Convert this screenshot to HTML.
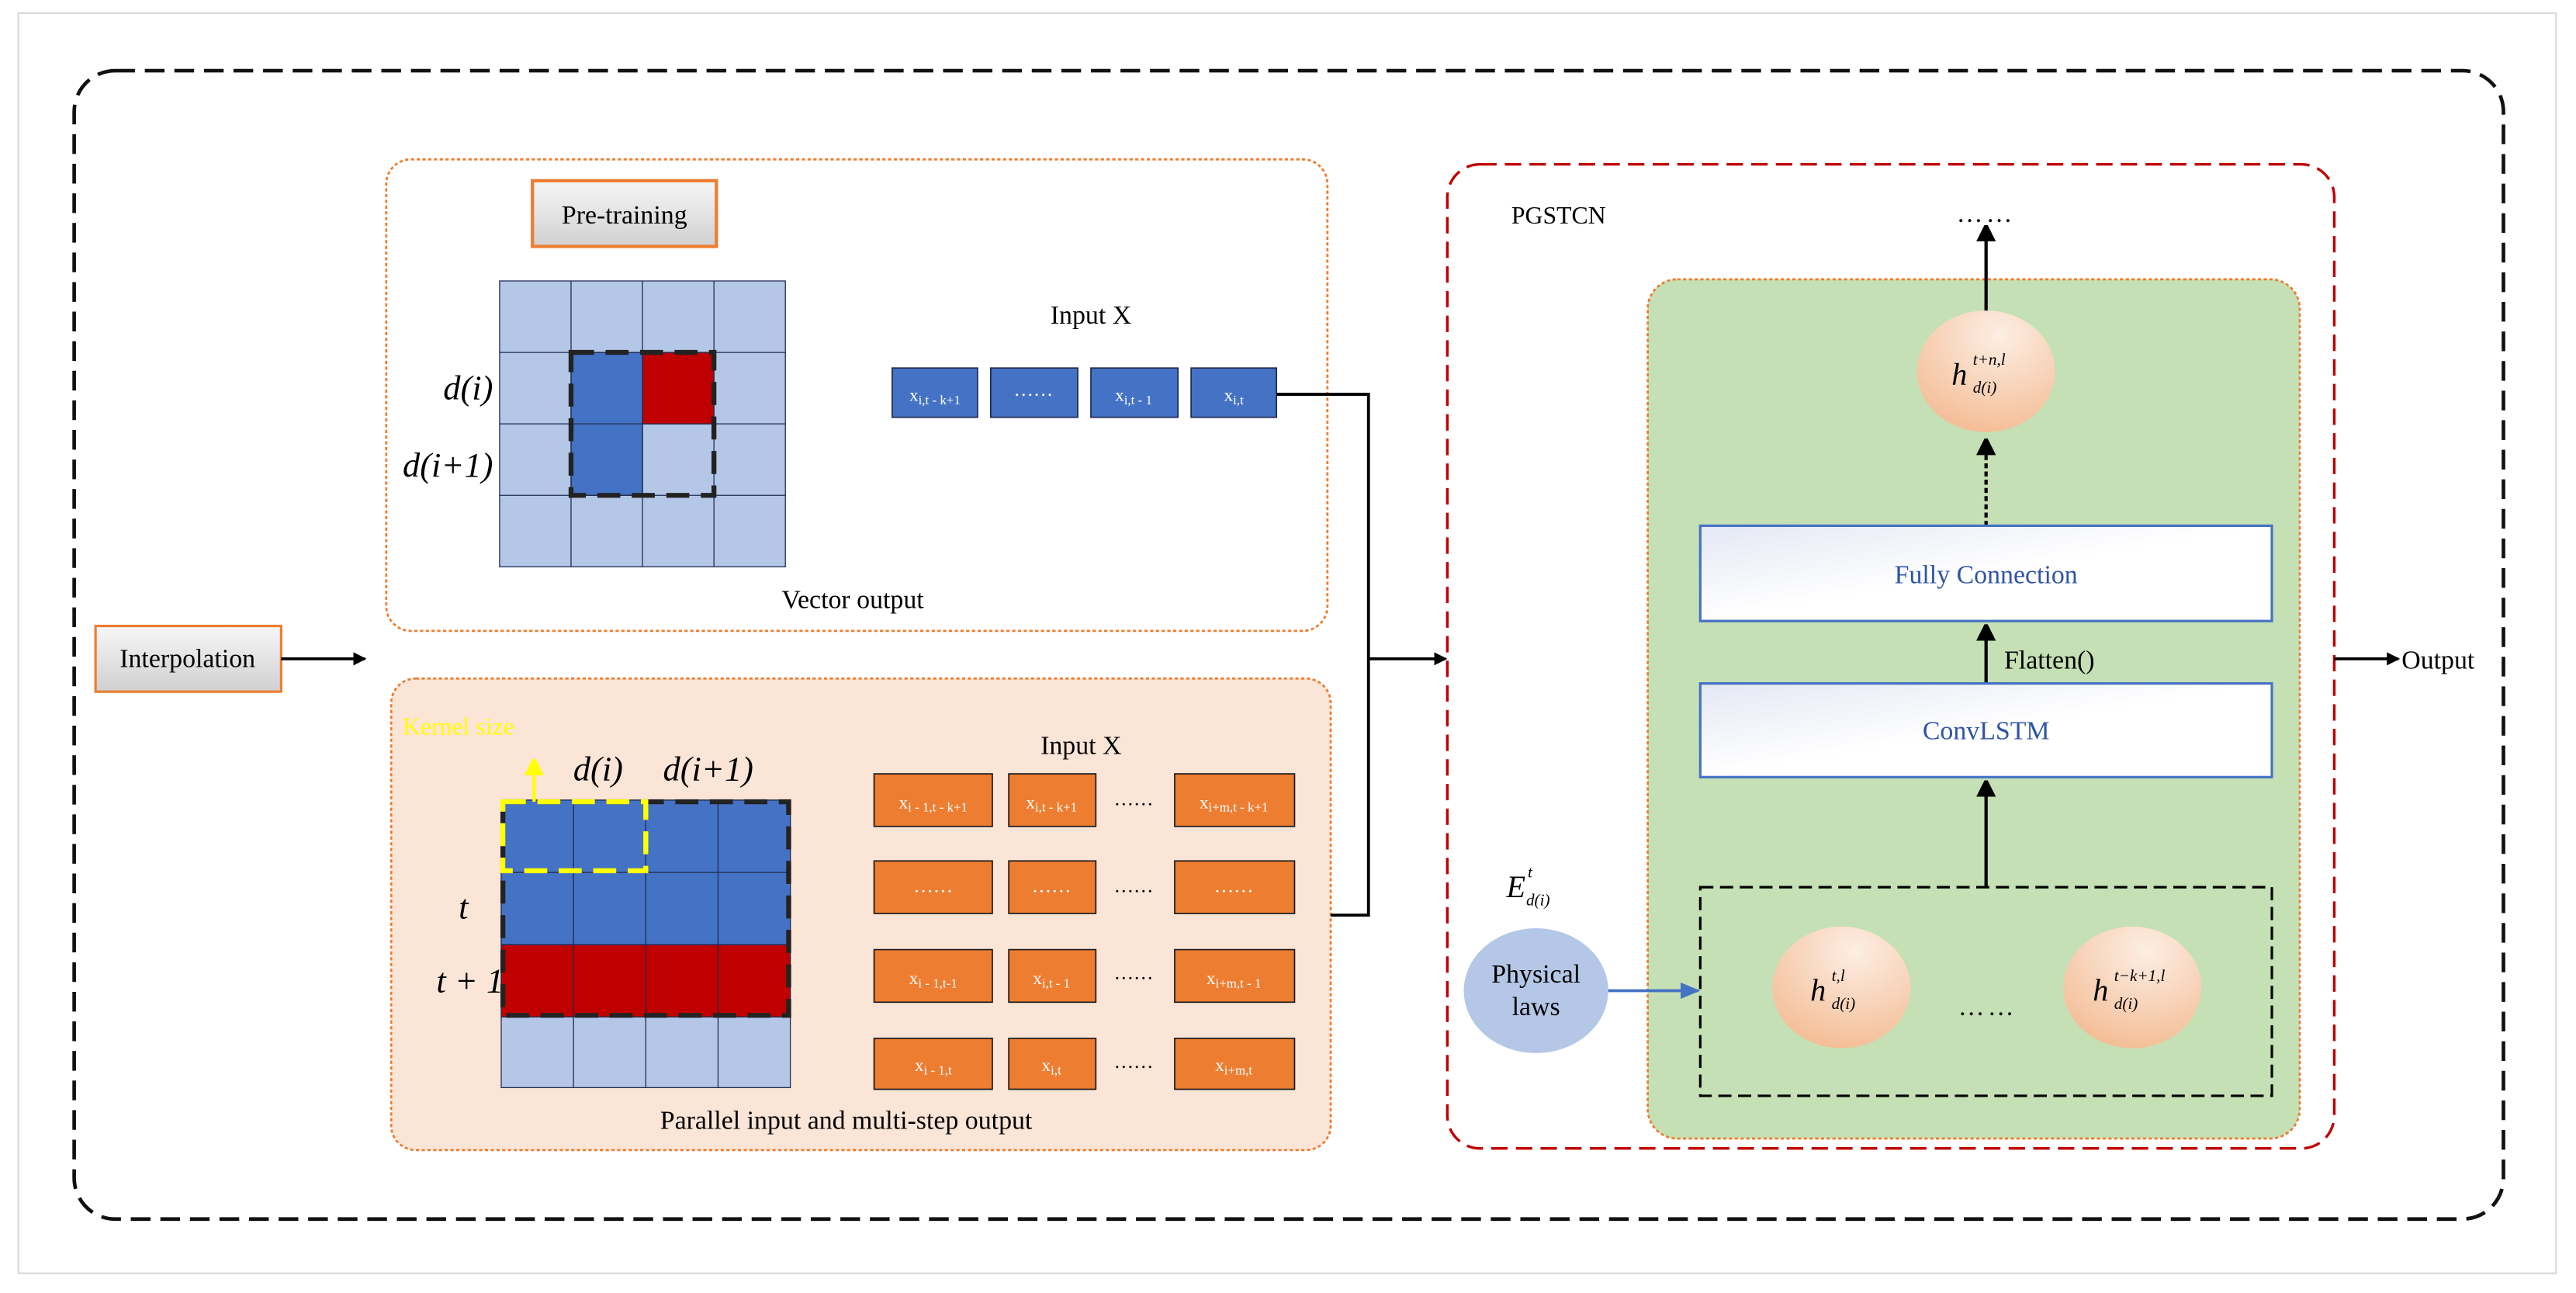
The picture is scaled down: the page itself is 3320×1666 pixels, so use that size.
<!DOCTYPE html>
<html><head><meta charset="utf-8"><style>html,body{margin:0;padding:0;background:#fff}svg{display:block}</style></head><body>
<svg width="3320" height="1666" viewBox="0 0 1568 787" xmlns="http://www.w3.org/2000/svg" font-family="'Liberation Serif', serif">
<defs>
<linearGradient id="gg" x1="0" y1="0" x2="0" y2="1"><stop offset="0" stop-color="#f7f7f7"/><stop offset="1" stop-color="#d0d0d0"/></linearGradient>
<linearGradient id="wb" x1="0" y1="0" x2="1" y2="1"><stop offset="0" stop-color="#e4e8f4"/><stop offset="0.5" stop-color="#ffffff"/></linearGradient>
<radialGradient id="pc" cx="0.6" cy="0.2" r="0.9"><stop offset="0" stop-color="#fdeee4"/><stop offset="1" stop-color="#f3b98f"/></radialGradient>
<marker id="ah" markerWidth="8" markerHeight="8" refX="7" refY="4" orient="auto" markerUnits="userSpaceOnUse"><path d="M0,0 L8,4 L0,8 z" fill="#000"/></marker>
<marker id="ahv" markerWidth="10" markerHeight="12" refX="10" refY="6" orient="auto" markerUnits="userSpaceOnUse"><path d="M0,0 L12,6 L0,12 z" fill="#000"/></marker>
<marker id="ahb" markerWidth="12" markerHeight="10" refX="11" refY="5" orient="auto" markerUnits="userSpaceOnUse"><path d="M0,0 L12,5 L0,10 z" fill="#4472C4"/></marker>
<marker id="ahy" markerWidth="10" markerHeight="12" refX="10" refY="6" orient="auto" markerUnits="userSpaceOnUse"><path d="M0,0 L12,6 L0,12 z" fill="#ffff00"/></marker>
</defs>
<rect x="11" y="8" width="1545" height="767" fill="#fff" stroke="#d9d9d9" stroke-width="1"/>
<rect x="45" y="43" width="1479" height="699" rx="25" fill="none" stroke="#111" stroke-width="2.2" stroke-dasharray="12,6"/>

<rect x="58" y="381" width="113" height="40" fill="url(#gg)" stroke="#ED7D31" stroke-width="1.5"/>
<text x="114" y="406" font-size="16" text-anchor="middle">Interpolation</text>
<line x1="171" y1="401" x2="222" y2="401" stroke="#000" stroke-width="1.8" marker-end="url(#ah)"/>

<rect x="235" y="97" width="573" height="287" rx="15" fill="#fff" stroke="#ED7D31" stroke-width="1.3" stroke-dasharray="2,1.5"/>
<rect x="324" y="110" width="112" height="40" fill="url(#gg)" stroke="#ED7D31" stroke-width="2"/>
<text x="380" y="136" font-size="16" text-anchor="middle">Pre-training</text>
<g stroke="#1f2a50" stroke-width="0.6">
<rect x="304" y="171" width="174" height="174" fill="#B4C7E7"/>
<rect x="347.5" y="214.5" width="43.5" height="87" fill="#4472C4"/>
<rect x="391" y="214.5" width="43.5" height="43.5" fill="#C00000"/>
<line x1="347.5" y1="171" x2="347.5" y2="345"/><line x1="391" y1="171" x2="391" y2="345"/><line x1="434.5" y1="171" x2="434.5" y2="345"/>
<line x1="304" y1="214.5" x2="478" y2="214.5"/><line x1="304" y1="258" x2="478" y2="258"/><line x1="304" y1="301.5" x2="478" y2="301.5"/>
</g>
<rect x="347.5" y="214.5" width="87" height="87" fill="none" stroke="#222" stroke-width="3" stroke-dasharray="14,7"/>
<text x="300" y="243" font-size="21" font-style="italic" text-anchor="end">d(i)</text>
<text x="300" y="290" font-size="21" font-style="italic" text-anchor="end">d(i+1)</text>
<text x="664" y="197" font-size="16" text-anchor="middle">Input X</text>
<g fill="#4472C4" stroke="#1f2a50" stroke-width="0.8">
<rect x="543" y="224" width="52" height="30"/><rect x="603" y="224" width="53" height="30"/><rect x="664" y="224" width="53" height="30"/><rect x="725" y="224" width="52" height="30"/>
</g>
<g fill="#fff" font-size="11" text-anchor="middle">
<text x="569" y="244">x<tspan font-size="8" dy="2">i,t - k+1</tspan></text>
<text x="629" y="241" font-size="12">……</text>
<text x="690" y="244">x<tspan font-size="8" dy="2">i,t - 1</tspan></text>
<text x="751" y="244">x<tspan font-size="8" dy="2">i,t</tspan></text>
</g>
<text x="519" y="370" font-size="16" text-anchor="middle">Vector output</text>

<rect x="238" y="413" width="572" height="287" rx="15" fill="#FBE5D6" stroke="#ED7D31" stroke-width="1.3" stroke-dasharray="2,1.5"/>
<text x="245" y="447" font-size="15" fill="#ffff00">Kernel size</text>
<g stroke="#1f2a50" stroke-width="0.6">
<rect x="305" y="487" width="176" height="175" fill="#B4C7E7"/>
<rect x="305" y="487" width="176" height="88" fill="#4472C4"/>
<rect x="305" y="575" width="176" height="44" fill="#C00000"/>
<line x1="349" y1="487" x2="349" y2="662"/><line x1="393" y1="487" x2="393" y2="662"/><line x1="437" y1="487" x2="437" y2="662"/>
<line x1="305" y1="531" x2="481" y2="531"/><line x1="305" y1="575" x2="481" y2="575"/><line x1="305" y1="619" x2="481" y2="619"/>
</g>
<rect x="306" y="488" width="174" height="130" fill="none" stroke="#222" stroke-width="3" stroke-dasharray="14,7"/>
<rect x="306" y="488" width="87" height="42" fill="none" stroke="#ffff00" stroke-width="3" stroke-dasharray="14,7"/>
<line x1="325" y1="488" x2="325" y2="462" stroke="#ffff00" stroke-width="2" marker-end="url(#ahy)"/>
<text x="364" y="475" font-size="21" font-style="italic" text-anchor="middle">d(i)</text>
<text x="431" y="475" font-size="21" font-style="italic" text-anchor="middle">d(i+1)</text>
<text x="282" y="559" font-size="21" font-style="italic" text-anchor="middle">t</text>
<text x="286" y="604" font-size="21" font-style="italic" text-anchor="middle">t + 1</text>
<text x="658" y="459" font-size="16" text-anchor="middle">Input X</text>
<g fill="#ED7D31" stroke="#1a1a1a" stroke-width="0.8">
<rect x="532" y="471" width="72" height="32"/><rect x="614" y="471" width="53" height="32"/><rect x="715" y="471" width="73" height="32"/>
<rect x="532" y="524" width="72" height="32"/><rect x="614" y="524" width="53" height="32"/><rect x="715" y="524" width="73" height="32"/>
<rect x="532" y="578" width="72" height="32"/><rect x="614" y="578" width="53" height="32"/><rect x="715" y="578" width="73" height="32"/>
<rect x="532" y="632" width="72" height="31"/><rect x="614" y="632" width="53" height="31"/><rect x="715" y="632" width="73" height="31"/>
</g>
<g fill="#fff" font-size="11" text-anchor="middle">
<text x="568" y="492">x<tspan font-size="8" dy="2">i - 1,t - k+1</tspan></text>
<text x="640" y="492">x<tspan font-size="8" dy="2">i,t - k+1</tspan></text>
<text x="751" y="492">x<tspan font-size="8" dy="2">i+m,t - k+1</tspan></text>
<text x="568" y="543" font-size="12">……</text><text x="640" y="543" font-size="12">……</text><text x="751" y="543" font-size="12">……</text>
<text x="568" y="599">x<tspan font-size="8" dy="2">i - 1,t-1</tspan></text>
<text x="640" y="599">x<tspan font-size="8" dy="2">i,t - 1</tspan></text>
<text x="751" y="599">x<tspan font-size="8" dy="2">i+m,t - 1</tspan></text>
<text x="568" y="652">x<tspan font-size="8" dy="2">i - 1,t</tspan></text>
<text x="640" y="652">x<tspan font-size="8" dy="2">i,t</tspan></text>
<text x="751" y="652">x<tspan font-size="8" dy="2">i+m,t</tspan></text>
</g>
<g font-size="12" text-anchor="middle"><text x="690" y="490">……</text><text x="690" y="543">……</text><text x="690" y="596">……</text><text x="690" y="650">……</text></g>
<text x="515" y="687" font-size="16" text-anchor="middle">Parallel input and multi-step output</text>

<polyline points="777,240 833,240 833,557 810,557" fill="none" stroke="#000" stroke-width="1.8"/>
<line x1="833" y1="401" x2="880" y2="401" stroke="#000" stroke-width="1.8" marker-end="url(#ah)"/>

<rect x="881" y="100" width="540" height="599" rx="20" fill="#fff" stroke="#C00000" stroke-width="1.6" stroke-dasharray="10,5"/>
<text x="920" y="136" font-size="15">PGSTCN</text>
<rect x="1003" y="170" width="397" height="523" rx="18" fill="#C5E0B4" stroke="#ED7D31" stroke-width="1.3" stroke-dasharray="2,1.5"/>
<text x="1209" y="135" font-size="16" text-anchor="middle" letter-spacing="2">……</text>
<line x1="1209" y1="190" x2="1209" y2="137" stroke="#000" stroke-width="2" marker-end="url(#ahv)"/>
<ellipse cx="1209" cy="226" rx="42" ry="37" fill="url(#pc)"/>
<g font-style="italic">
<text x="1188" y="234" font-size="19">h</text>
<text x="1201" y="222" font-size="10">t+n,l</text>
<text x="1201" y="239" font-size="10">d(i)</text>
</g>
<line x1="1209" y1="320" x2="1209" y2="267" stroke="#000" stroke-width="2" stroke-dasharray="3,2" marker-end="url(#ahv)"/>
<rect x="1035" y="320" width="348" height="58" fill="url(#wb)" stroke="#4472C4" stroke-width="1.5"/>
<text x="1209" y="355" font-size="16" fill="#2F55A4" text-anchor="middle">Fully Connection</text>
<line x1="1209" y1="416" x2="1209" y2="380" stroke="#000" stroke-width="2" marker-end="url(#ahv)"/>
<text x="1220" y="407" font-size="16">Flatten()</text>
<rect x="1035" y="416" width="348" height="57" fill="url(#wb)" stroke="#4472C4" stroke-width="1.5"/>
<text x="1209" y="450" font-size="16" fill="#2F55A4" text-anchor="middle">ConvLSTM</text>
<line x1="1209" y1="540" x2="1209" y2="475" stroke="#000" stroke-width="2" marker-end="url(#ahv)"/>
<rect x="1035" y="540" width="348" height="127" fill="none" stroke="#000" stroke-width="1.5" stroke-dasharray="8,4"/>
<ellipse cx="1121" cy="601" rx="42" ry="37" fill="url(#pc)"/>
<g font-style="italic">
<text x="1102" y="609" font-size="19">h</text>
<text x="1115" y="597" font-size="10">t,l</text>
<text x="1115" y="614" font-size="10">d(i)</text>
</g>
<ellipse cx="1298" cy="601" rx="42" ry="37" fill="url(#pc)"/>
<g font-style="italic">
<text x="1274" y="609" font-size="19">h</text>
<text x="1287" y="597" font-size="10">t−k+1,l</text>
<text x="1287" y="614" font-size="10">d(i)</text>
</g>
<text x="1210" y="618" font-size="16" text-anchor="middle" letter-spacing="2">……</text>
<ellipse cx="935" cy="603" rx="44" ry="38" fill="#B4C7E7"/>
<text x="935" y="598" font-size="16" text-anchor="middle">Physical</text>
<text x="935" y="618" font-size="16" text-anchor="middle">laws</text>
<g font-style="italic">
<text x="917" y="546" font-size="19">E</text>
<text x="930" y="534" font-size="10">t</text>
<text x="929" y="551" font-size="10">d(i)</text>
</g>
<line x1="979" y1="603" x2="1034" y2="603" stroke="#4472C4" stroke-width="1.8" marker-end="url(#ahb)"/>

<line x1="1421" y1="401" x2="1460" y2="401" stroke="#000" stroke-width="1.8" marker-end="url(#ah)"/>
<text x="1462" y="407" font-size="16">Output</text>
</svg>
</body></html>
